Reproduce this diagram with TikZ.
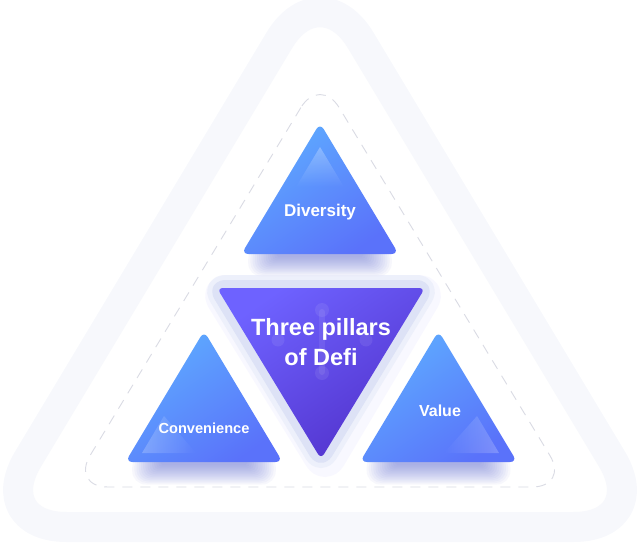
\documentclass[tikz,border=0pt]{standalone}
\usepackage{fontspec}
\setmainfont{Liberation Sans}
\usetikzlibrary{fadings}
\definecolor{band}{RGB}{247,248,252}
\definecolor{dashc}{RGB}{218,219,228}
\definecolor{blueA}{RGB}{94,172,255}
\definecolor{blueB}{RGB}{90,114,250}
\definecolor{purA}{RGB}{110,98,255}
\definecolor{purB}{RGB}{82,50,204}
\definecolor{glowc}{RGB}{221,226,246}
\definecolor{shadowc}{RGB}{100,112,214}
\tikzfading[name=fadeR, left color=transparent!78, right color=transparent!100]
\tikzfading[name=fadeL, left color=transparent!100, right color=transparent!78]
\tikzfading[name=fadeD, top color=transparent!72, bottom color=transparent!100]
\tikzset{
  pillar/.style={top color=blueA, bottom color=blueB, shading angle=35, rounded corners=7pt},
  centretri/.style={top color=purA, bottom color=purB, shading angle=35, rounded corners=6pt},
  lbl/.style={text=white, inner sep=0pt, anchor=base},
  sheen/.style={fill=white, draw=none},
}
\begin{document}
\begin{tikzpicture}[x=1pt,y=-1pt]
\useasboundingbox (0,0) rectangle (640,543);
% outer band
\draw[band, line width=30pt, fill=white, rounded corners=79pt, line join=round]
  (320,-27.5) -- (-12.7,527) -- (652.7,527) -- cycle;
% dashed frame
\draw[dashc, line width=0.9pt, dash pattern=on 10pt off 8pt, rounded corners=37pt]
  (320,76) -- (71,487) -- (569,487) -- cycle;
% shadows under blue pillars
\foreach \cx/\by in {320/254, 204/462, 438.5/462} {
  \foreach \k in {1,...,14}
    \fill[shadowc, fill opacity=0.05, rounded corners={(16-\k)*0.9pt}]
      ({\cx-74+\k*2.2}, {\by-8}) rectangle ({\cx+74-\k*2.2}, {\by+24-\k*1.5});
}
% glow around centre triangle
\draw[purA!35, line width=34pt, opacity=0.12, line join=round, rounded corners=8pt]
  (219,292) -- (427,292) -- (325,464) -- cycle;
\draw[glowc!70, line width=26pt, opacity=0.6, line join=round, rounded corners=8pt]
  (217,288) -- (425,288) -- (321,459) -- cycle;
\draw[glowc, line width=16pt, line join=round, rounded corners=8pt, fill=glowc]
  (217,288) -- (425,288) -- (321,459) -- cycle;
% pillars
\shade[pillar] (320,123) -- (241.4,254) -- (398.6,254) -- cycle;
\shade[pillar] (204,331) -- (125.4,462) -- (282.6,462) -- cycle;
\shade[pillar] (438.5,331) -- (359.9,462) -- (517.1,462) -- cycle;
% sheens
\fill[sheen, path fading=fadeD] (320,147) -- (296,187) -- (344,187) -- cycle;
\fill[sheen, path fading=fadeR] (142,453) -- (164,416) -- (196,453) -- cycle;
\fill[sheen, path fading=fadeL] (499,453) -- (477,416) -- (444,453) -- cycle;
% centre triangle
\shade[centretri] (217,288) -- (425,288) -- (321,459) -- cycle;
% faint icon
\begin{scope}[white, opacity=0.08]
  \draw[line width=6pt, line cap=round] (322,312) -- (322,372);
  \fill (322,310) circle (7);
  \fill (322,373) circle (7);
  \fill (278,340) circle (6.5);
  \fill (366,340) circle (6.5);
\end{scope}
% labels
\node[lbl, font=\bfseries\fontsize{17}{20}\selectfont] (div) at (320,216.7) {Diversity};
\node[lbl, font=\bfseries\fontsize{14.6}{18}\selectfont] (conv) at (204,433.3) {Convenience};
\node[lbl, font=\bfseries\fontsize{16}{19}\selectfont] (val) at (440,416.7) {Value};
\node[lbl, font=\bfseries\fontsize{23.5}{27}\selectfont] (t1) at (321,335) {Three pillars};
\node[lbl, font=\bfseries\fontsize{23.5}{27}\selectfont] (t2) at (321,365) {of Defi};
\end{tikzpicture}
\end{document}
